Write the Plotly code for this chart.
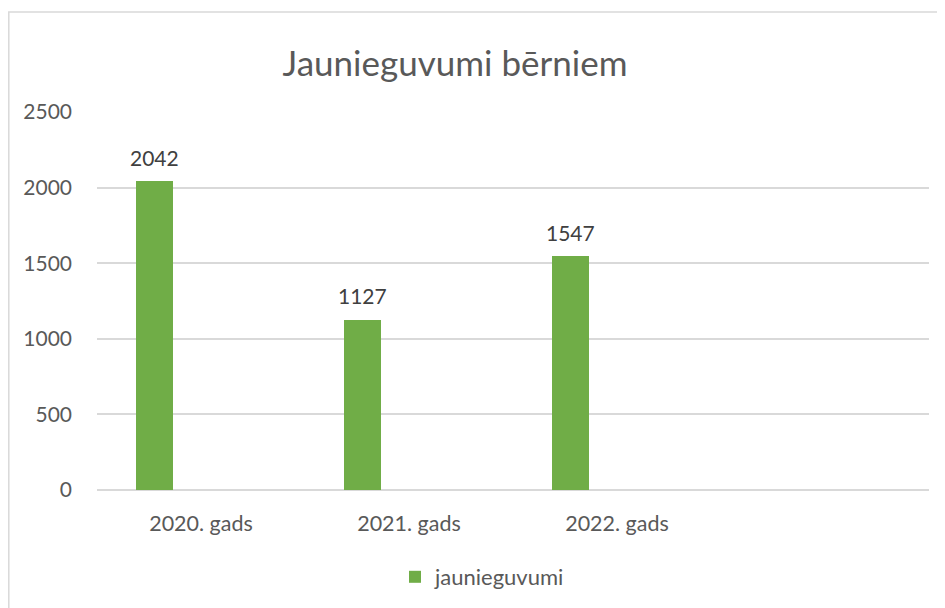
import plotly.graph_objects as go

categories = ["2020. gads", "2021. gads", "2022. gads"]
values = [2042, 1127, 1547]
series_name = "jaunieguvumi"
y_ticks = [0, 500, 1000, 1500, 2000, 2500]

x_pos = list(range(len(categories)))

# page body has an 8px margin, so the figure is drawn 8px in from the window corner
W, H = 937, 600
L, R, T, B = 89, 16, 104, 118
plot_w = W - L - R
plot_h = H - T - B

font_family = "Lato, Carlito, Calibri, sans-serif"
text_color = "#595959"
grid_color = "#D9D9D9"
bar_color = "#70AD47"

bar_w = 0.175
bar_shift = -0.2236  # bar centre relative to category centre

fig = go.Figure()
fig.add_trace(go.Bar(
    x=x_pos, y=values, name=series_name,
    marker=dict(color=bar_color, line=dict(width=0)),
    width=bar_w, offset=bar_shift - bar_w / 2,
    showlegend=True, hoverinfo="x+y",
))

for xi, v in zip(x_pos, values):
    fig.add_annotation(
        x=xi + bar_shift, y=v, text=str(v), showarrow=False,
        xref="x", yref="y", yanchor="middle", yshift=24,
        font=dict(family=font_family, size=21, color="#404040"),
    )

# chart area border
fig.add_shape(
    type="rect", xref="paper", yref="paper",
    x0=(0.8 - L) / plot_w, x1=1.2,
    y0=-0.6, y1=(H - B - 4) / plot_h,
    line=dict(color=grid_color, width=1.5), fillcolor="rgba(0,0,0,0)",
    layer="below",
)

fig.update_layout(
    width=W, height=H,
    margin=dict(l=L, r=R, t=T, b=B, autoexpand=False),
    paper_bgcolor="white", plot_bgcolor="white",
    font=dict(family=font_family, color=text_color, size=21),
    title=dict(
        text="Jaunieguvumi bērniem",
        x=447 / W, xref="container", xanchor="center",
        y=1 - 56 / H, yref="container", yanchor="middle",
        font=dict(family=font_family, size=35, color=text_color),
    ),
    showlegend=True,
    legend=dict(
        orientation="h", x=(387 - L) / plot_w, xanchor="left",
        y=(H - B - 569) / plot_h, yanchor="middle",
        font=dict(family=font_family, size=22, color=text_color),
        bgcolor="rgba(0,0,0,0)",
    ),
    xaxis=dict(
        range=[-0.5, 3.5], tickvals=x_pos, ticktext=categories,
        showgrid=False, zeroline=False, showline=False,
        ticks="", ticklabelstandoff=18,
        tickfont=dict(family=font_family, size=21.5, color=text_color),
    ),
    yaxis=dict(
        range=[0, 2500], tickvals=y_ticks,
        showgrid=True, gridcolor=grid_color, gridwidth=1.5,
        zeroline=True, zerolinecolor=grid_color, zerolinewidth=1.5,
        showline=False, ticks="", ticklabelstandoff=24,
        tickfont=dict(family=font_family, size=21, color=text_color),
    ),
    bargap=0,
)

fig.write_html("out.html")
